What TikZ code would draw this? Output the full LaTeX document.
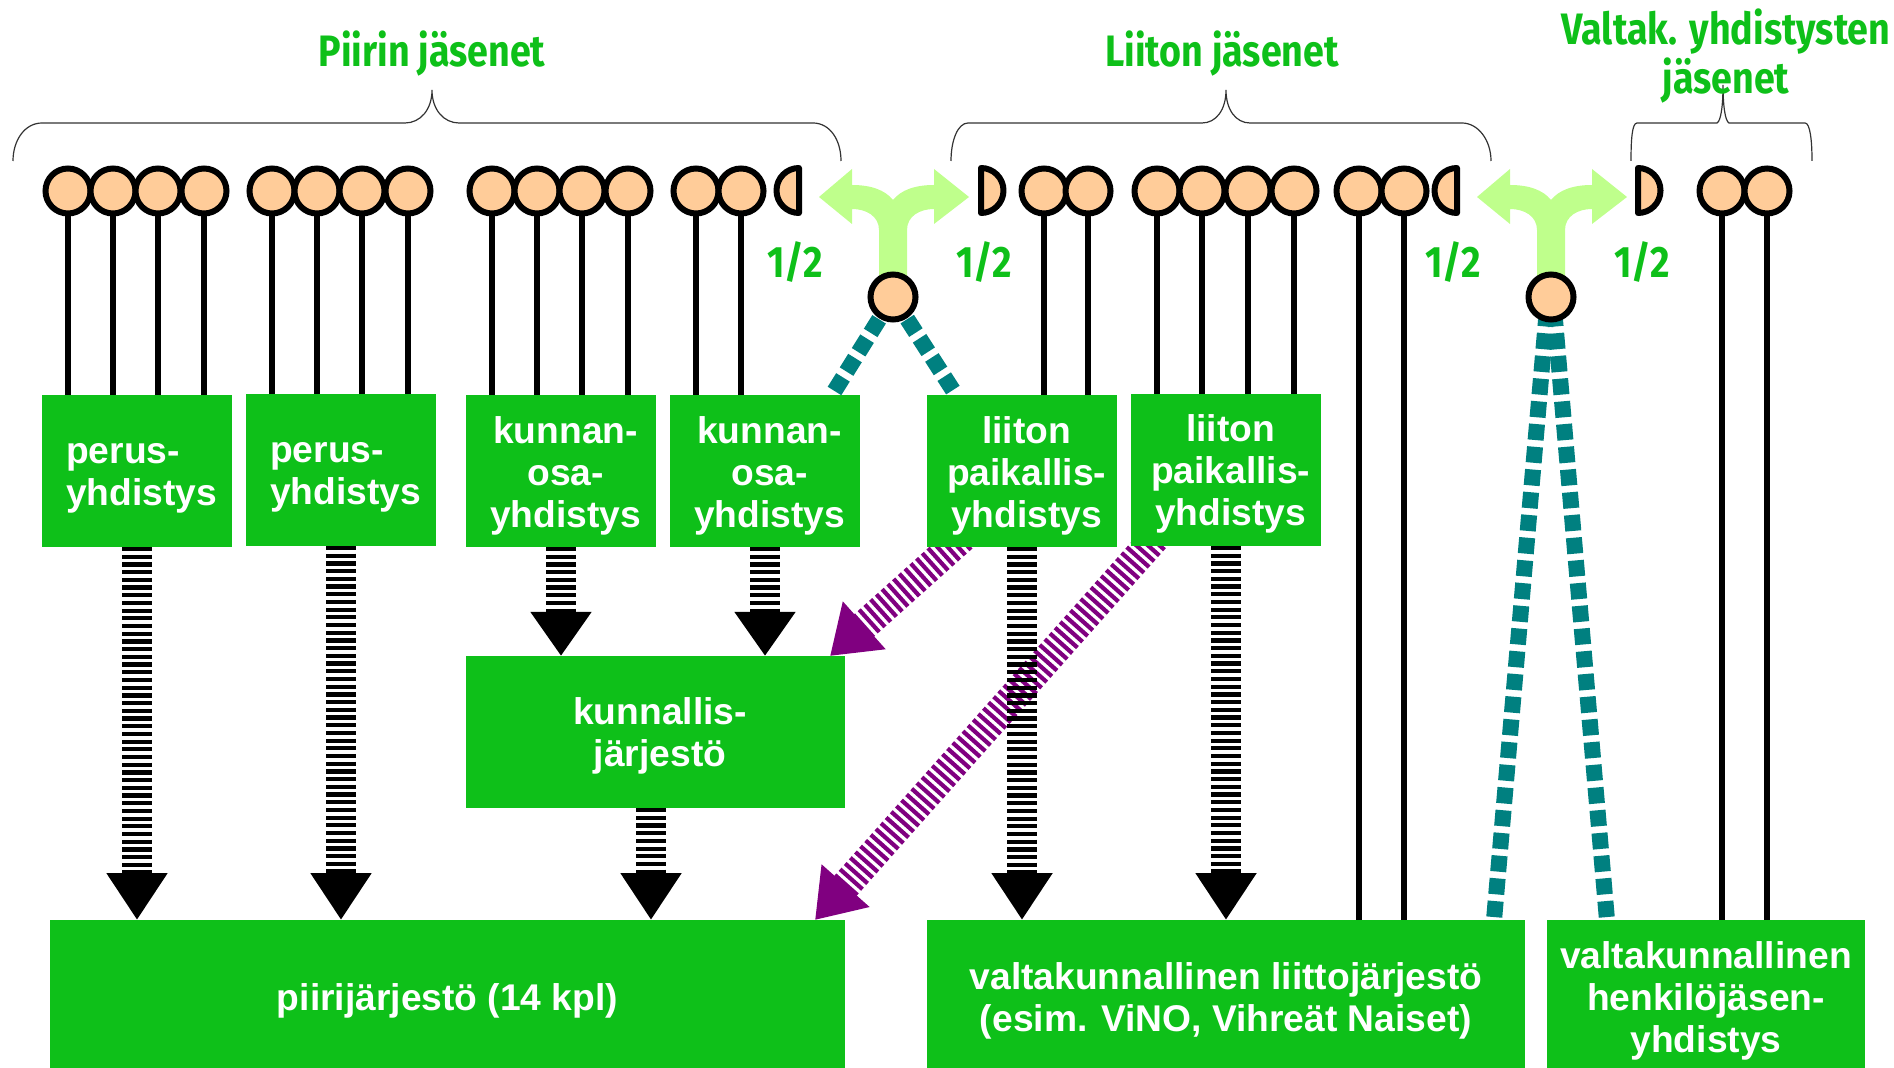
\documentclass[tikz,border=0pt]{standalone}
\usepackage{fontspec}
\setmainfont{Liberation Sans}
\newfontfamily\headfont[FakeStretch=0.855]{Fira Sans}
\usetikzlibrary{backgrounds,positioning,arrows.meta}

\definecolor{boxgreen}{HTML}{0EC019}
\definecolor{splitgreen}{HTML}{BFFF8C}
\definecolor{ballpeach}{HTML}{FFCC99}
\definecolor{halfteal}{HTML}{008080}
\definecolor{stripepurple}{HTML}{800080}

\tikzset{
	greenbox/.style={fill=boxgreen,inner sep=0pt,outer sep=0pt},
	smallbox/.style={greenbox,minimum width=95pt,minimum height=76pt},
	boxtext/.style={text=white,font=\fontsize{18.6}{21}\selectfont\bfseries,inner sep=0pt},
	headtext/.style={text=boxgreen,font=\headfont\fontsize{22}{24.5}\selectfont\bfseries,align=center,inner sep=0pt},
	ball/.style={circle,draw=black,fill=ballpeach,line width=3pt,minimum size=22.5pt,inner sep=0pt},
	halfball/.style={draw=black,fill=ballpeach,line width=3pt,line join=round},
	stem/.style={line width=2.75pt,black},
	blackarrow/.style={line width=15pt,black,dash pattern=on 2.1pt off 1.75pt,-{Triangle[length=23.5pt,width=29pt]}},
	shortarrow/.style={line width=15pt,black,dash pattern=on 2.1pt off 1.75pt,-{Triangle[length=22pt,width=29pt]}},
	purplearrow/.style={line width=15pt,stripepurple,dash pattern=on 2.1pt off 1.75pt,-{Triangle[length=23pt,width=30.5pt]}},
	tealline/.style={line width=8pt,halfteal,dash pattern=on 8pt off 3.4pt},
	bracket/.style={line width=0.6pt,black!80}
}

\begin{document}
\begin{tikzpicture}[x=0.5pt,y=-0.5pt]
		\useasboundingbox (0,0) rectangle (1894,1068);
		
		% top row of boxes
		\foreach \mynode/\myx/\myy in {perus1/137/471,perus2/341/470,kunnanosa1/561/471,kunnanosa2/765/471,
			liiton1/1022/471,liiton2/1226/470} {
			\node[smallbox] (\mynode) at (\myx,\myy) {};
		}
		
		% the wider boxes
		\node[greenbox,minimum width=189.5pt,minimum height=76pt] (kunnallis) at (655.5,732) {};
		\node[greenbox,minimum width=397.5pt,minimum height=74pt] (piiri) at (447.5,994) {};
		\node[greenbox,minimum width=299pt,minimum height=74pt] (liitto) at (1226,994) {};
		\node[greenbox,minimum width=159pt,minimum height=74pt] (henkilo) at (1706,994) {};
		
		% texts of the boxes
		\foreach \mynode/\myalign/\mydown/\mytext in {perus1/left/3.6pt/{perus-\\yhdistys},perus2/left/3.6pt/{perus-\\yhdistys},
			kunnanosa1/center/2.4pt/{kunnan-\\osa-\\yhdistys},kunnanosa2/center/2.4pt/{kunnan-\\osa-\\yhdistys},
			liiton1/center/2.4pt/{liiton\\paikallis-\\yhdistys},liiton2/center/2pt/{liiton\\paikallis-\\yhdistys},
			kunnallis/center/2pt/{kunnallis-\\järjestö}} {
			\node[boxtext,align=\myalign] (\mynode-text) at ([xshift=2.3pt,yshift=-\mydown]\mynode.center) {\mytext};
		}
		\foreach \mynode/\mytext in {piiri/{piirijärjestö (14 kpl)},
			liitto/{valtakunnallinen liittojärjestö\\(esim. ViNO, Vihreät Naiset)},
			henkilo/{valtakunnallinen\\henkilöjäsen-\\yhdistys}} {
			\node[boxtext,align=center] (\mynode-text) at ([yshift=-3.3pt]\mynode.center) {\mytext};
		}
		
		% members as balls
		\foreach \mynode/\myx/\mybox in {a1/68/perus1,a2/113/perus1,a3/158/perus1,a4/204/perus1,
			b1/272/perus2,b2/317/perus2,b3/362/perus2,b4/408/perus2,
			c1/492/kunnanosa1,c2/537/kunnanosa1,c3/582/kunnanosa1,c4/628/kunnanosa1,
			d1/696/kunnanosa2,d2/741/kunnanosa2,
			e1/1044/liiton1,e2/1088/liiton1,
			f1/1157/liiton2,f2/1202/liiton2,f3/1248/liiton2,f4/1294/liiton2,
			g1/1359/liitto,g2/1404/liitto,
			h1/1722/henkilo,h2/1767/henkilo} {
			\node[ball] (\mynode) at (\myx,191) {};
			\begin{scope}[on background layer]
				\draw[stem] (\mynode) -- (\mynode |- \mybox.north);
			\end{scope}
		}
		
		% halved balls
		\draw[halfball] (799,168) arc (90:270:11.25pt) -- cycle;
		\draw[halfball] (981,168) arc (90:-90:11.25pt) -- cycle;
		\draw[halfball] (1457,168) arc (90:270:11.25pt) -- cycle;
		\draw[halfball] (1638,168) arc (90:-90:11.25pt) -- cycle;
		
		% the balls that split in two
		\node[ball] (split1) at (893,297) {};
		\node[ball] (split2) at (1551,297) {};
		
		% free ends
		\coordinate (tealend1) at (832,395);
		\coordinate (tealend2) at (956,395);
		\coordinate (tealstart3) at (1548,297);
		\coordinate (tealstart4) at (1553,297);
		\coordinate (tealend3) at (1494,920);
		\coordinate (tealend4) at (1607,920);
		\coordinate (purplefrom1) at (974,527);
		\coordinate (purpleto1) at (830,656);
		\coordinate (purplefrom2) at (1170,521);
		\coordinate (purpleto2) at (815,920);
		\coordinate (kunnallisout) at (651,808);
		
		\begin{scope}[on background layer]
			% split arrows
			\foreach \myx in {893,1551} {
				\fill[splitgreen,shift={(\myx,0)}] (-14,285) -- (-14,230) .. controls (-14,216) and (-27,209) .. (-41,209)
					-- (-41,224) -- (-74,197) -- (-41,169) -- (-41,185) .. controls (-22,185) and (-8,190) .. (0,200)
					.. controls (8,190) and (22,185) .. (41,185) -- (41,169) -- (76,197) -- (41,224) -- (41,209)
					.. controls (27,209) and (14,216) .. (14,230) -- (14,285) -- cycle;
			}
			
			% teal lines
			\draw[tealline,dash phase=11pt] (split1) -- (tealend1);
			\draw[tealline,dash phase=11pt] (split1) -- (tealend2);
			\draw[tealline,dash phase=4.6pt] (tealstart3) -- (tealend3);
			\draw[tealline,dash phase=4.6pt] (tealstart4) -- (tealend4);
			
			% purple arrows go under the black ones
			\draw[purplearrow] (purplefrom1) -- (purpleto1);
			\draw[purplearrow] (purplefrom2) -- (purpleto2);
			
			% black arrows
			\foreach \myfrom/\myto in {perus1/piiri,perus2/piiri,liiton1/liitto,liiton2/liitto} {
				\draw[blackarrow] (\myfrom.south) -- (\myfrom.south |- \myto.north);
			}
			\foreach \myfrom in {kunnanosa1,kunnanosa2} {
				\draw[shortarrow] (\myfrom.south) -- (\myfrom.south |- kunnallis.north);
			}
			\draw[blackarrow] (kunnallisout) -- (kunnallisout |- piiri.north);
		\end{scope}
		
		% brackets
		\draw[bracket] (13,161) .. controls (13,140) and (25,123) .. (42,123) -- (405,123)
			.. controls (420,123) and (432,110) .. (432,90) .. controls (432,110) and (444,123) .. (459,123) -- (813,123)
			.. controls (830,123) and (841,140) .. (841,161);
		\draw[bracket] (951,161) .. controls (951,140) and (958,123) .. (968,123) -- (1202,123)
			.. controls (1216,123) and (1226,110) .. (1226,90) .. controls (1226,110) and (1236,123) .. (1250,123) -- (1462,123)
			.. controls (1478,123) and (1491,140) .. (1491,161);
		\draw[bracket] (1631,161) .. controls (1631,140) and (1632,123) .. (1637,123) -- (1717,123)
			.. controls (1721,121) and (1723,105) .. (1723,85) .. controls (1723,105) and (1725,121) .. (1729,123) -- (1805,123)
			.. controls (1810,123) and (1812,140) .. (1812,161);
		
		% green headings
		\node[headtext] (piirihead) at (432,54) {Piirin jäsenet};
		\node[headtext] (liittohead) at (1222,54) {Liiton jäsenet};
		\node[headtext] (valtakhead) at (1726,56) {Valtak. yhdistysten\\jäsenet};
		
		% shares
		\foreach \mynode/\myx in {half1/795,half2/984,half3/1453,half4/1642} {
			\node[headtext] (\mynode) at (\myx,262) {1/2};
		}
\end{tikzpicture}
\end{document}
